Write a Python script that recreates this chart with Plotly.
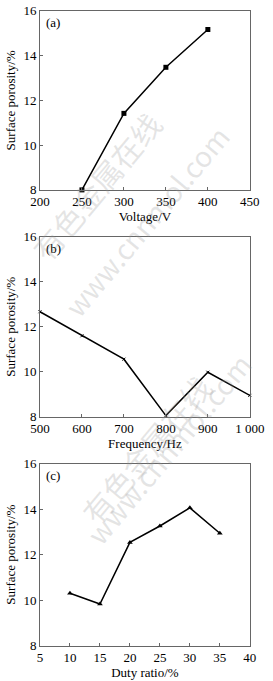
import plotly.graph_objects as go

voltage = [250, 300, 350, 400]
porosity_a = [8.0, 11.42, 13.48, 15.17]
frequency = [500, 600, 700, 800, 900, 1000]
porosity_b = [12.67, 11.6, 10.56, 8.05, 9.98, 8.95]
duty = [10, 15, 20, 25, 30, 35]
porosity_c = [10.3, 9.83, 12.54, 13.26, 14.06, 12.94]

xticks_a = [200, 250, 300, 350, 400, 450]
xticks_b = [500, 600, 700, 800, 900, 1000]
xticklabels_b = ["500", "600", "700", "800", "900", "1 000"]
xticks_c = [5, 10, 15, 20, 25, 30, 35, 40]
yticks = [8, 10, 12, 14, 16]

W, H = 273, 681
font = "Liberation Serif"
axcol = "#666666"

fig = go.Figure()
fig.add_trace(go.Scatter(x=voltage, y=porosity_a, mode="lines+markers",
                         line=dict(color="black", width=1.5),
                         marker=dict(symbol="square", size=5, color="black"),
                         xaxis="x", yaxis="y", cliponaxis=False))
fig.add_trace(go.Scatter(x=frequency, y=porosity_b, mode="lines+markers",
                         line=dict(color="black", width=1.5),
                         marker=dict(symbol="x-thin", size=3, color="black",
                                     line=dict(width=1, color="black")),
                         xaxis="x2", yaxis="y2", cliponaxis=False))
fig.add_trace(go.Scatter(x=duty, y=porosity_c, mode="lines+markers",
                         line=dict(color="black", width=1.5),
                         marker=dict(symbol="triangle-up", size=5, color="black"),
                         xaxis="x3", yaxis="y3", cliponaxis=False))

xdom = [33 / W, 264 / W]
def ydom(top, bottom):
    return [1 - bottom / H, 1 - top / H]

common_ax = dict(showline=True, linecolor=axcol, linewidth=1, mirror=True,
                 ticks="inside", ticklen=3, tickcolor=axcol, showgrid=False,
                 zeroline=False, tickfont=dict(family=font, size=13, color="black"))
title_font = dict(family=font, size=13, color="black")

panels = [
    ("", "", ydom(4, 187), [200, 450], xticks_a, [str(v) for v in xticks_a], "Voltage/V"),
    ("2", "2", ydom(235, 419), [500, 1000], xticks_b, xticklabels_b, "Frequency/Hz"),
    ("3", "3", ydom(467, 653), [5, 40], xticks_c, [str(v) for v in xticks_c], "Duty ratio/%"),
]

layout = dict(width=W, height=H, margin=dict(l=0, r=0, t=0, b=0),
              paper_bgcolor="white", plot_bgcolor="white", showlegend=False)
for xs, ys, yd, xr, xt, xtl, xtitle in panels:
    layout["xaxis" + xs] = dict(common_ax, domain=xdom, range=xr, tickvals=xt,
                                ticktext=xtl, anchor="y" + ys,
                                title=dict(text=xtitle, font=title_font, standoff=2))
    layout["yaxis" + ys] = dict(common_ax, domain=yd, range=[8, 16], tickvals=yticks,
                                anchor="x" + xs,
                                title=dict(text="Surface porosity/%", font=title_font, standoff=4))
fig.update_layout(**layout)

labels = [("(a)", 4), ("(b)", 235), ("(c)", 467)]
for txt, top in labels:
    fig.add_annotation(text=txt, x=37 / W, y=1 - (top + 2) / H, xref="paper", yref="paper",
                       xanchor="left", yanchor="top", showarrow=False,
                       font=dict(family=font, size=13, color="black"))

# faint watermark
wm_col = "rgba(150,150,150,0.25)"
for cx, cy, txt, sz in [(95, 95, "有色金属在线", 30), (150, 110, "www.cnnmol.com", 28),
                        (150, 540, "有色金属在线", 30), (175, 560, "www.cnnmol.com", 28)]:
    fig.add_annotation(text=txt, x=cx / W, y=1 - cy / H, xref="paper", yref="paper",
                       showarrow=False, textangle=-50,
                       font=dict(family="Noto Sans CJK SC", size=sz, color=wm_col))

fig.write_html("out.html")
